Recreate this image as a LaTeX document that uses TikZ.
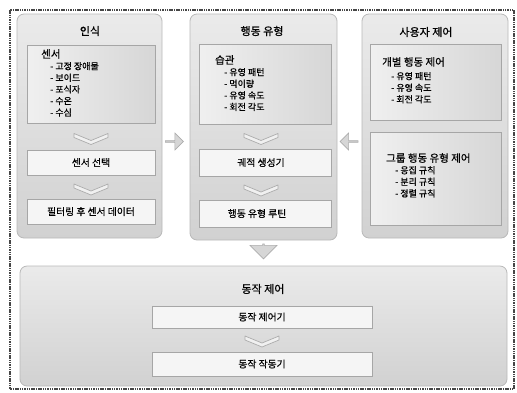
\documentclass[tikz,border=0pt]{standalone}
\usepackage{fontspec}
\newfontfamily\kr[FakeBold=0.6]{Noto Sans CJK KR}
\usetikzlibrary{fit,shapes.arrows,shadows,calc}
\tikzset{
  frame/.style={draw=gray!55!black, line width=1.2pt, dash pattern=on 1.5pt off 0.8pt},
  panel/.style={draw=gray!55, rounded corners=7pt, top color=gray!16, bottom color=gray!36, inner sep=0pt, line width=0.8pt},
  listbox/.style={draw=gray!70, inner sep=0pt, line width=0.8pt, left color=gray!12, right color=gray!32,
     drop shadow={shadow xshift=0.8pt, shadow yshift=-1.2pt, fill=gray!75, opacity=0.7}},
  labbox/.style={draw=gray!70, fill=gray!8, inner sep=0pt, line width=0.8pt,
     drop shadow={shadow xshift=0.8pt, shadow yshift=-1.2pt, fill=gray!75, opacity=0.7}},
  title/.style={font=\kr\fontsize{11}{12}\selectfont, text=black, inner sep=0pt},
  lab/.style={font=\kr\fontsize{9.8}{11}\selectfont, text=black, inner sep=0pt},
  listtxt/.style={font=\kr\fontsize{9}{11.6}\selectfont, text=black, align=left, inner sep=0pt, anchor=north west},
  chevstyle/.style={fill=gray!12, draw=gray!65, line width=0.7pt, line join=round},
  chev/.pic={\path[chevstyle] (-17,-5) -- (0,2) -- (17,-5) -- (17,-1) -- (0,6) -- (-17,-1) -- cycle;},
  blockarrow/.style={single arrow, fill=gray!32, draw=gray!65, line width=0.6pt, inner sep=0pt},
}
\newcommand{\hdr}{\fontsize{10.5}{12}\selectfont}
\newcommand{\itm}{\hspace*{9pt}- }
\begin{document}
\begin{tikzpicture}[x=1pt,y=-1pt]
\useasboundingbox (0,0) rectangle (517,392);
\draw[frame] (10,10) rectangle (514,389);

% panels
\node[panel, fit={(17,14) (162,238)}] (p1) {};
\node[panel, fit={(190,14) (337,240)}] (p2) {};
\node[panel, fit={(362,14) (508,238)}] (p3) {};
\node[panel, fit={(20,266) (507,386)}] (p4) {};

% titles
\node[title] (t1) at (90,31) {인식};
\node[title] (t2) at (262,31) {행동 유형};
\node[title] (t3) at (426,32) {사용자 제어};
\node[title] (t4) at (263,289) {동작 제어};

% panel 1
\node[listbox, fit={(27,45) (155,123)}] (b11) {};
\node[labbox, fit={(27,150) (155,175)}] (b12) {};
\node[labbox, fit={(27,199) (155,224)}] (b13) {};
\node[listtxt] (l11) at (41,49) {{\hdr 센서}\\\itm 고정 장애물\\\itm 보이드\\\itm 포식자\\\itm 수온\\\itm 수심};
\node[lab] (l12) at (b12.center) {센서 선택};
\node[lab] (l13) at (b13.center) {필터링 후 센서 데이터};
\pic at ($(b11.south)!0.5!(b12.north)+(0,2)$) {chev};
\pic at ($(b12.south)!0.5!(b13.north)+(0,2)$) {chev};

% panel 2
\node[listbox, fit={(199,44) (331,124)}] (b21) {};
\node[labbox, fit={(199,149) (331,176)}] (b22) {};
\node[labbox, fit={(199,200) (331,227)}] (b23) {};
\node[listtxt] (l21) at (215,55) {{\hdr 습관}\\\itm 유영 패턴\\\itm 먹이량\\\itm 유영 속도\\\itm 회전 각도};
\node[lab] (l22) at ($(b22.center)+(-4,0)$) {궤적 생성기};
\node[lab] (l23) at ($(b23.center)+(-8,0)$) {행동 유형 루틴};
\pic at ($(b21.south)!0.5!(b22.north)+(-4,2)$) {chev};
\pic at ($(b22.south)!0.5!(b23.north)+(-4,2)$) {chev};

% panel 3
\node[listbox, fit={(370,44) (501,120)}] (b31) {};
\node[listbox, fit={(370,132) (501,225)}] (b32) {};
\node[listtxt] (l31) at (382,57) {{\hdr 개별 행동 제어}\\[2pt]\itm 유영 패턴\\\itm 유영 속도\\\itm 회전 각도};
\node[listtxt] (l32) at (386,153) {{\hdr 그룹 행동 유형 제어}\\\itm 응집 규칙\\\itm 분리 규칙\\\itm 정렬 규칙};

% panel 4
\node[labbox, fit={(152,306) (372,328)}] (b41) {};
\node[labbox, fit={(152,352) (372,376)}] (b42) {};
\node[lab] (l41) at (b41.center) {동작 제어기};
\node[lab] (l42) at (b42.center) {동작 작동기};
\pic at ($(b41.south)!0.5!(b42.north)+(0,1)$) {chev};

% block arrows
\node[blockarrow, minimum height=18pt, minimum width=17pt, single arrow head extend=3pt] (a12)
  at ($(p1.east)!0.5!(p2.west)+(-2,15)$) {};
\node[blockarrow, minimum height=18pt, minimum width=17pt, single arrow head extend=3pt, shape border rotate=180] (a32)
  at ($(p3.west)!0.5!(p2.east)+(0,15)$) {};
\node[blockarrow, minimum height=15pt, minimum width=27pt, single arrow head extend=5pt, shape border rotate=270] (a24)
  at ($(p2.south)!0.5!(p4.north)+(0,-2)$) {};
\end{tikzpicture}
\end{document}
